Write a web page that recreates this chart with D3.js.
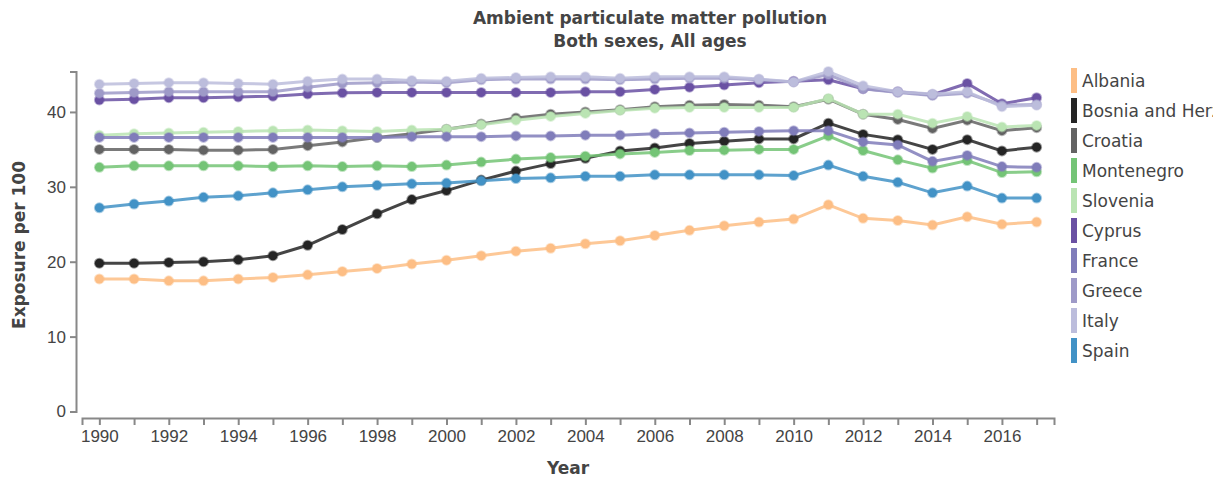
<!DOCTYPE html>
<html>
<head>
<meta charset="utf-8">
<script src="https://cdn.jsdelivr.net/npm/d3@7"></script>
<style>
  body { margin: 0; background: #fff; }
  svg { display: block; font-family: "DejaVu Sans", Verdana, sans-serif; }
</style>
</head>
<body>
<svg id="chart" width="1213" height="479"></svg>
<script>
// years on the x axis
const years = d3.range(1990, 2018);

const countries = ["Albania", "Bosnia and Herzegovina", "Croatia", "Montenegro", "Slovenia",
                   "Cyprus", "France", "Greece", "Italy", "Spain"];
const colors = ["#fdbe85", "#252525", "#636363", "#74c476", "#bae4b3",
                "#6a51a3", "#807dba", "#9e9ac8", "#bcbddc", "#4292c6"];

// exposure per 100
const albania    = [17.7,17.7,17.45,17.45,17.7,17.9,18.25,18.7,19.1,19.7,20.2,20.8,21.4,21.8,22.4,22.8,23.5,24.2,24.8,25.3,25.7,27.6,25.8,25.5,24.9,26.0,25.0,25.3];
const bosnia     = [19.8,19.8,19.9,20.0,20.25,20.8,22.2,24.3,26.4,28.3,29.5,30.9,32.1,33.1,33.8,34.8,35.2,35.8,36.1,36.4,36.4,38.5,37.0,36.3,35.0,36.3,34.8,35.3];
const croatia    = [35.0,35.0,35.0,34.9,34.9,35.0,35.5,36.0,36.6,37.1,37.7,38.4,39.2,39.7,40.0,40.3,40.7,40.9,41.0,40.9,40.7,41.7,39.7,39.0,37.8,38.9,37.5,37.9];
const montenegro = [32.6,32.8,32.8,32.8,32.8,32.7,32.8,32.7,32.8,32.7,32.9,33.3,33.7,33.9,34.1,34.4,34.6,34.85,34.9,35.0,35.0,36.8,34.85,33.6,32.5,33.5,31.9,32.0];
const slovenia   = [36.9,37.1,37.2,37.3,37.4,37.5,37.6,37.5,37.4,37.6,37.7,38.3,38.9,39.4,39.8,40.2,40.5,40.6,40.6,40.6,40.6,41.8,39.7,39.7,38.5,39.4,38.0,38.2];
const cyprus     = [41.6,41.7,41.9,41.9,42.0,42.1,42.4,42.55,42.6,42.6,42.6,42.6,42.6,42.6,42.7,42.7,43.0,43.3,43.6,43.9,44.1,44.3,43.1,42.7,42.3,43.8,41.1,41.9];
const france     = [36.6,36.6,36.6,36.6,36.6,36.6,36.6,36.6,36.6,36.7,36.7,36.7,36.8,36.8,36.9,36.9,37.1,37.2,37.3,37.4,37.5,37.5,36.0,35.6,33.4,34.2,32.7,32.6];
const greece     = [42.5,42.6,42.7,42.7,42.7,42.7,43.3,43.8,43.9,44.0,43.9,44.3,44.4,44.4,44.4,44.3,44.4,44.5,44.5,44.3,44.0,45.0,43.1,42.6,42.2,42.5,40.9,41.0];
const italy      = [43.7,43.8,43.9,43.9,43.8,43.7,44.1,44.4,44.4,44.2,44.1,44.5,44.6,44.7,44.7,44.5,44.7,44.7,44.7,44.4,44.0,45.4,43.5,42.7,42.4,42.7,40.7,40.9];
const spain      = [27.2,27.7,28.1,28.6,28.8,29.2,29.6,30.0,30.2,30.4,30.5,30.8,31.1,31.2,31.4,31.4,31.6,31.6,31.6,31.6,31.5,32.9,31.4,30.6,29.2,30.1,28.5,28.5];

const values = [albania, bosnia, croatia, montenegro, slovenia, cyprus, france, greece, italy, spain];
const yTicks = [0, 10, 20, 30, 40];

const series = countries.map((name, i) => ({
    name: name,
    color: colors[i],
    points: years.map((yr, j) => ({ year: yr, value: values[i][j] }))
}));

const svg = d3.select("#chart");
const textColor = "#444";
const axisColor = "#888";

// scales
const x = d3.scaleLinear().domain([1989.5, 2017.5]).range([82, 1054]);
const y = d3.scaleLinear()
    .domain([0, d3.max(values, v => d3.max(v))])
    .range([411.5, 71.5]);

// title
svg.append("text")
    .attr("x", 650).attr("y", 24)
    .attr("text-anchor", "middle")
    .attr("font-size", 17).attr("font-weight", "bold")
    .attr("fill", textColor)
    .text("Ambient particulate matter pollution");
svg.append("text")
    .attr("x", 650).attr("y", 47)
    .attr("text-anchor", "middle")
    .attr("font-size", 17).attr("font-weight", "bold")
    .attr("fill", textColor)
    .text("Both sexes, All ages");

// y axis
const gy = svg.append("g")
    .attr("transform", "translate(76,0)")
    .call(d3.axisLeft(y).tickValues(yTicks).tickSize(6).tickPadding(4));
gy.selectAll("text").attr("font-size", 17).attr("fill", textColor).attr("font-family", null);
gy.selectAll("line, path").attr("stroke", axisColor).attr("stroke-width", 2);

svg.append("text")
    .attr("transform", "translate(25,245) rotate(-90)")
    .attr("text-anchor", "middle")
    .attr("font-size", 17).attr("font-weight", "bold")
    .attr("fill", textColor)
    .text("Exposure per 100");

// x axis
const gx = svg.append("g")
    .attr("transform", "translate(0,418)")
    .call(d3.axisBottom(x)
        .tickValues(years)
        .tickSize(7)
        .tickPadding(5)
        .tickFormat(d => d % 2 === 0 ? d : ""));
gx.selectAll("text").attr("font-size", 17).attr("fill", textColor).attr("font-family", null);
gx.selectAll("line, path").attr("stroke", axisColor).attr("stroke-width", 2);

svg.append("text")
    .attr("x", 568).attr("y", 474)
    .attr("text-anchor", "middle")
    .attr("font-size", 17).attr("font-weight", "bold")
    .attr("fill", textColor)
    .text("Year");

// lines and points
const line = d3.line().x(d => x(d.year)).y(d => y(d.value));

const groups = svg.append("g").selectAll("g")
    .data(series)
    .join("g");

groups.append("path")
    .attr("d", d => line(d.points))
    .attr("fill", "none")
    .attr("stroke", d => d.color)
    .attr("stroke-width", 3)
    .attr("stroke-opacity", 0.85);

groups.each(function(s) {
    d3.select(this).selectAll("circle")
        .data(s.points)
        .join("circle")
        .attr("cx", d => x(d.year))
        .attr("cy", d => y(d.value))
        .attr("r", 4.5)
        .attr("fill", s.color)
        .attr("stroke", s.color)
        .attr("stroke-width", 2)
        .attr("stroke-opacity", 0.45);
});

// legend
const legend = svg.append("g")
    .attr("transform", "translate(1071,68)")
    .selectAll("g")
    .data(series)
    .join("g")
    .attr("transform", (d, i) => `translate(0,${i * 30})`);

legend.append("rect")
    .attr("width", 6).attr("height", 25)
    .attr("fill", d => d.color);

legend.append("text")
    .attr("x", 11).attr("y", 18.5)
    .attr("font-size", 17)
    .attr("fill", textColor)
    .text(d => d.name);
</script>
</body>
</html>
